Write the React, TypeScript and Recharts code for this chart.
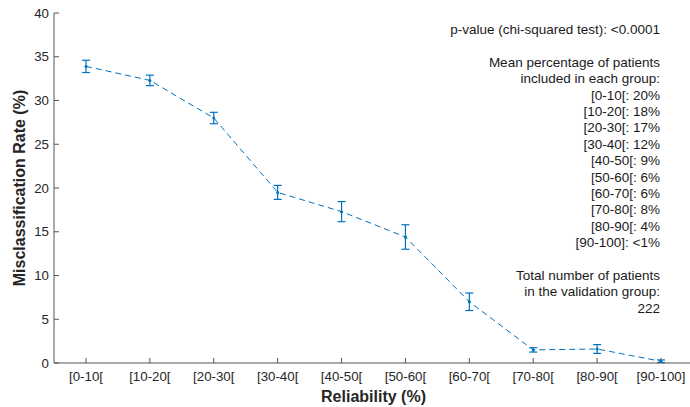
import { LineChart, Line, XAxis, YAxis, ErrorBar } from 'recharts';

// reliability groups and misclassification rate (%) with error bar half-widths
const categories = ['[0-10[', '[10-20[', '[20-30[', '[30-40[', '[40-50[', '[50-60[', '[60-70[', '[70-80[', '[80-90[', '[90-100]'];
const rates = [33.9, 32.3, 28.0, 19.5, 17.3, 14.4, 7.0, 1.5, 1.6, 0.2];
const errors = [0.7, 0.6, 0.65, 0.8, 1.15, 1.4, 1.0, 0.25, 0.5, 0.15];
const groupShares = ['20%', '18%', '17%', '12%', '9%', '6%', '6%', '8%', '4%', '<1%'];
const yTicks = [0, 5, 10, 15, 20, 25, 30, 35, 40];

const pValue = '<0.0001';
const totalPatients = 222;

const data = categories.map((c, i) => ({ group: c, rate: rates[i], err: errors[i] }));

const BLUE = '#0072BD';
const AXIS = '#555';
const TEXT = '#262626';
const FONT = '"Liberation Sans", Arial, Helvetica, sans-serif';

function XTitle({ viewBox }: any) {
  const { x, y, width, height } = viewBox;
  return (
    <text x={x + width / 2} y={y + height - 5} textAnchor="middle" fontSize={16} fontWeight="bold" fill={TEXT} fontFamily={FONT}>
      Reliability (%)
    </text>
  );
}

function YTitle({ viewBox }: any) {
  const { x, y, height } = viewBox;
  const cx = x + 19;
  const cy = y + height / 2;
  return (
    <text x={cx} y={cy} transform={`rotate(-90 ${cx} ${cy})`} textAnchor="middle" dominantBaseline="central" fontSize={16} fontWeight="bold" fill={TEXT} fontFamily={FONT}>
      Misclassification Rate (%)
    </text>
  );
}

export default function App() {
  const tickStyle = { fontSize: 13.3, fill: TEXT, fontFamily: FONT };
  const lines = [
    `p-value (chi-squared test): ${pValue}`,
    '',
    'Mean percentage of patients',
    'included in each group:',
    ...categories.map((c, i) => `${c}: ${groupShares[i]}`),
    '',
    'Total number of patients',
    'in the validation group:',
    String(totalPatients),
  ];
  return (
    <div style={{ position: 'absolute', left: 0, top: 0, width: 690, height: 407, overflow: 'hidden', background: '#fff' }}>
      <LineChart width={700} height={407} data={data} margin={{ top: 13, right: 7, bottom: 0, left: 0 }}>
        <XAxis
          dataKey="group"
          xAxisId="bottom"
          height={44}
          padding={{ left: 32, right: 32 }}
          interval={0}
          tick={tickStyle}
          tickSize={-5}
          tickMargin={14}
          stroke={AXIS}
          label={<XTitle />}
        />
        <XAxis
          dataKey="group"
          xAxisId="top"
          orientation="top"
          height={0}
          padding={{ left: 32, right: 32 }}
          interval={0}
          tickFormatter={() => ''}
          tickSize={-5}
          stroke={AXIS}
        />
        <YAxis
          yAxisId="left"
          width={54}
          domain={[0, 40]}
          ticks={yTicks}
          tick={tickStyle}
          tickSize={-5}
          tickMargin={10}
          stroke={AXIS}
          label={<YTitle />}
        />
        <YAxis
          yAxisId="right"
          orientation="right"
          width={0}
          domain={[0, 40]}
          ticks={yTicks}
          tickFormatter={() => ''}
          tickSize={-5}
          stroke={AXIS}
        />
        <Line
          xAxisId="bottom"
          yAxisId="left"
          dataKey="rate"
          type="linear"
          stroke={BLUE}
          strokeWidth={1}
          strokeDasharray="6 4"
          dot={{ r: 1.5, fill: BLUE, stroke: 'none' }}
          activeDot={false}
          isAnimationActive={false}
        >
          <ErrorBar dataKey="err" width={4} stroke={BLUE} strokeWidth={1.2} direction="y" />
        </Line>
      </LineChart>
      <div
        style={{
          position: 'absolute',
          right: 30,
          top: 22,
          textAlign: 'right',
          fontFamily: FONT,
          fontSize: 13.5,
          lineHeight: '16.4px',
          color: '#1a1a1a',
          whiteSpace: 'pre',
        }}
      >
        {lines.map((l, i) => (
          <div key={i} style={{ height: 16.4 }}>{l}</div>
        ))}
      </div>
    </div>
  );
}
